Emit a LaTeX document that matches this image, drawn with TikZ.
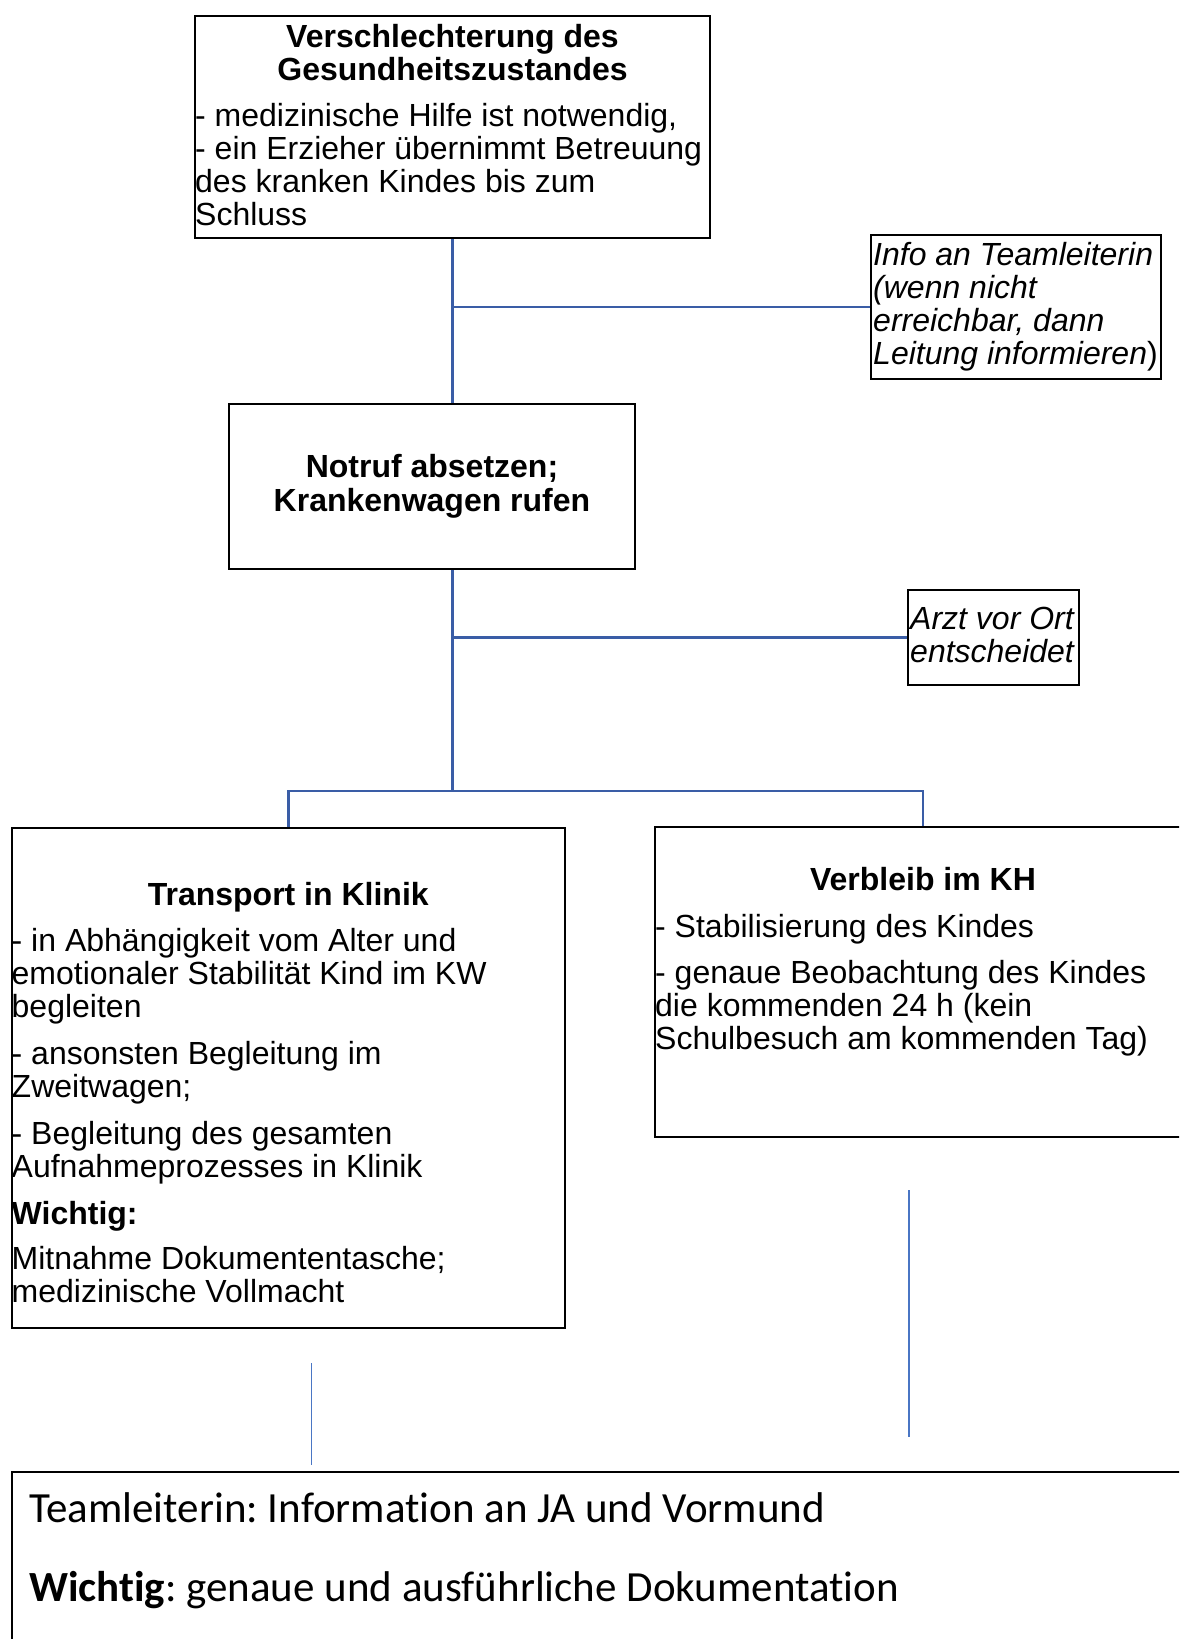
\documentclass[tikz,border=0pt]{standalone}
\usepackage{fontspec}
\setmainfont{Liberation Sans}
\newfontfamily\calfont[Ligatures=NoCommon]{Carlito}
\usetikzlibrary{positioning,calc}
\definecolor{linkblue}{HTML}{3A5DA6}
\definecolor{thinblue}{HTML}{4A76C4}
\newcommand\bodyfont{\fontsize{32}{33}\selectfont}
\newcommand\notefont{\calfont\fontsize{43}{50}\selectfont}
\frenchspacing

\begin{document}
\begin{tikzpicture}[x=1pt,y=-1pt,
  box/.style={draw=black,line width=2pt,inner sep=0pt,anchor=north west},
  txt/.style={inner sep=0pt,anchor=north west,align=left,font=\bodyfont},
  ttl/.style={inner sep=0pt,anchor=north,align=center,font=\bodyfont\bfseries},
  conn/.style={draw=linkblue,line width=2.6pt},
  thin/.style={draw=thinblue,line width=1.1pt}]
\useasboundingbox (0,0) rectangle (1179,1639);
\clip (0,0) rectangle (1179,1639);
% boxes
\node[box,minimum width=515pt,minimum height=222pt] (verschl) at (194,15) {};
\node[box,minimum width=290pt,minimum height=144pt] (info) at (870,234) {};
\node[box,minimum width=406pt,minimum height=165pt,align=center,font=\bodyfont\bfseries] (notruf) at (228,403) {Notruf absetzen;\\[1pt]Krankenwagen rufen};
\node[box,minimum width=171pt,minimum height=95pt] (arzt) at (907,589) {};
\node[box,minimum width=553.5pt,minimum height=500pt] (transport) at (10.5,827) {};
\node[box,minimum width=536pt,minimum height=310pt] (verbleib) at (654,826) {};
\node[box,minimum width=1200pt,minimum height=200pt] (abschluss) at (10.5,1470.6) {};
% texts
\node[ttl] (verschltitle) at ([yshift=-9pt]verschl.north) {Verschlechterung des\\Gesundheitszustandes};
\node[txt] (verschltext) at ([xshift=1pt,yshift=-88pt]verschl.north west) {- medizinische Hilfe ist notwendig,\\- ein Erzieher übernimmt Betreuung\\des kranken Kindes bis zum\\Schluss};
\node[txt,font=\bodyfont\itshape] (infotext) at ([xshift=3pt,yshift=-8pt]info.north west) {Info an Teamleiterin\\(wenn nicht\\erreichbar, dann\\Leitung informieren\upshape)};
\node[txt,font=\bodyfont\itshape] (arzttext) at ([xshift=3pt,yshift=-18pt]arzt.north west) {Arzt vor Ort\\entscheidet};
\node[ttl] (transporttitle) at ([yshift=-55pt]transport.north) {Transport in Klinik};
\node[txt] (transporttext) at ([xshift=1pt,yshift=-101pt]transport.north west) {- in Abhängigkeit vom Alter und\\emotionaler Stabilität Kind im KW\\begleiten\\[14pt]- ansonsten Begleitung im\\Zweitwagen;\\[14pt]- Begleitung des gesamten\\Aufnahmeprozesses in Klinik\\[14pt]\textbf{Wichtig:}\\[12pt]Mitnahme Dokumententasche;\\medizinische Vollmacht};
\node[ttl] (verbleibtitle) at ([yshift=-41pt]verbleib.north) {Verbleib im KH};
\node[txt] (verbleibtext) at ([xshift=1pt,yshift=-88pt]verbleib.north west) {- Stabilisierung des Kindes\\[13pt]- genaue Beobachtung des Kindes\\die kommenden 24 h (kein\\Schulbesuch am kommenden Tag)};
\node[inner sep=0pt,anchor=base west,font=\notefont] (notiz1) at ([xshift=18.5pt,yshift=-51.4pt]abschluss.north west) {Teamleiterin: Information an JA und Vormund};
\node[inner sep=0pt,anchor=base west,font=\notefont] (notiz2) at ([xshift=18.5pt,yshift=-130.4pt]abschluss.north west) {\textbf{Wichtig}: genaue und ausführliche Dokumentation};
% connectors
\coordinate (split) at (verschl.south |- 0,791);
\draw[conn] (verschl.south) -- (verschl.south |- notruf.north);
\draw[conn] (verschl.south |- info.west) -- (info.west);
\draw[conn] (verschl.south |- notruf.south) -- (split);
\draw[conn] (split |- arzt.west) -- (arzt.west);
\draw[conn] (transport.north) -- (transport.north |- split) -- (verbleib.north |- split) -- (verbleib.north);
% loose thin lines
\coordinate (lstart) at (311.5,1363);
\coordinate (lend) at (311.5,1465);
\coordinate (rstart) at (909,1190);
\coordinate (rend) at (909,1437);
\draw[thin] (lstart) -- (lend);
\draw[thin] (rstart) -- (rend);
\end{tikzpicture}
\end{document}
